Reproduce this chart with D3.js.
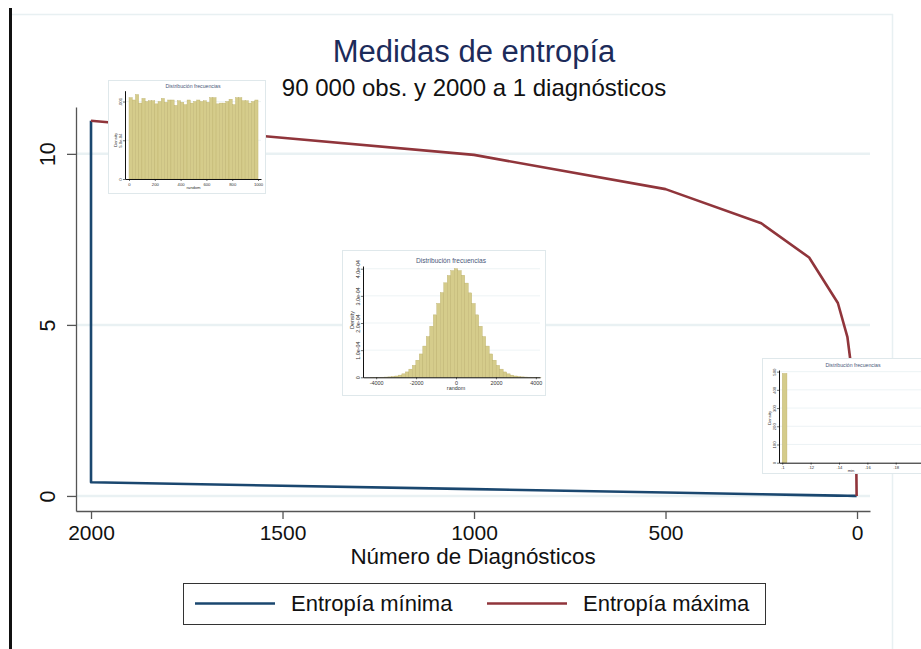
<!DOCTYPE html>
<html><head><meta charset="utf-8">
<script src="https://cdn.jsdelivr.net/npm/d3@7"></script>
<style>
html,body{margin:0;padding:0;background:#fff;}
svg{display:block;font-family:'Liberation Sans',Arial,sans-serif;}
</style></head>
<body>
<svg id="chart" width="921" height="649"></svg>
<script>
// ---------- DATA ----------
const titleText = "Medidas de entropía";
const subtitleText = "90 000 obs. y 2000 a 1 diagnósticos";
const xTitle = "Número de Diagnósticos";
const xTicks = [2000, 1500, 1000, 500, 0];
const yTicks = [0, 5, 10];
const seriesNames = ["Entropía mínima", "Entropía máxima"];
// Entropía mínima
const minX = [2000, 2000, 1000, 500, 250, 125, 50, 25, 10, 5, 2, 1];
const minY = [10.97, 0.40, 0.20, 0.10, 0.05, 0.025, 0.010, 0.005, 0.002, 0.001, 0.0002, 0];
// Entropía máxima
const maxX = [2000, 1000, 500, 250, 125, 50, 25, 10, 5, 2, 1];
const maxY = [10.97, 9.97, 8.97, 7.97, 6.97, 5.64, 4.64, 3.32, 2.32, 1.0, 0];

// Inset 1: uniform histogram (density, x 1e-3), 40 bins of width 25 over 0..1000
const unifBinStart = 0, unifBinWidth = 25;
const unifDensity = [1.05,1.02,1.09,0.98,1.04,1.00,1.01,1.01,0.97,1.00,1.04,0.99,1.02,1.02,0.95,1.01,0.99,0.96,1.02,0.98,
                     1.00,1.02,1.00,1.01,0.99,1.05,1.05,0.97,0.98,0.98,1.00,1.03,0.96,1.05,1.05,1.01,1.01,0.98,1.00,1.02];
const unifXTicks = [0, 200, 400, 600, 800, 1000];
const unifYTicks = [0, 0.0005, 0.001];
const unifYLabels = ["0", "5.0e-04", ".001"];

// Inset 2: normal histogram (density, x 1e-5), 49 bins of width 175 starting at -4287.5
const normBinStart = -4287.5, normBinWidth = 175;
const normDensity = [0.005,0.012,0.025,0.045,0.09,0.16,0.28,0.48,0.80,1.28,1.98,3.0,4.4,6.3,8.6,11.5,15.0,18.8,23.0,27.2,31.2,34.8,37.5,39.3,40.0,
                     39.3,37.6,34.7,31.1,27.2,23.0,18.8,15.0,11.5,8.6,6.3,4.4,3.0,1.97,1.27,0.79,0.48,0.28,0.16,0.087,0.047,0.024,0.012,0.006];
const normXTicks = [-4000, -2000, 0, 2000, 4000];
const normYTicks = [0, 0.0001, 0.0002, 0.0003, 0.0004];
const normYLabels = ["0", "1.0e-04", "2.0e-04", "3.0e-04", "4.0e-04"];

// Inset 3: single-bar histogram of "min"
const minBinStart = [0.1], minBinWidth = 0.0033, minDensity = [490];
const minXTicks = [0.1, 0.12, 0.14, 0.16, 0.18];
const minXLabels = [".1", ".12", ".14", ".16", ".18"];
const minYTicks = [0, 100, 200, 300, 400, 500];

const insetTitle = "Distribución frecuencias";

// ---------- DRAW ----------
const svg = d3.select("#chart");
svg.append("rect").attr("width", 921).attr("height", 649).attr("fill", "#fff");

// outer frame
svg.append("line").attr("x1", 12).attr("x2", 893).attr("y1", 14.5).attr("y2", 14.5)
  .attr("stroke", "#e8f0f2").attr("stroke-width", 1.5);
svg.append("line").attr("x1", 892.5).attr("x2", 892.5).attr("y1", 14).attr("y2", 649)
  .attr("stroke", "#e8f0f2").attr("stroke-width", 1.5);
svg.append("line").attr("x1", 10.5).attr("x2", 10.5).attr("y1", 8).attr("y2", 649)
  .attr("stroke", "#111").attr("stroke-width", 3);

const x = d3.scaleLinear().domain([2039.2, -33.9]).range([76, 870]);
const y = d3.scaleLinear().domain([-0.44, 11.37]).range([511, 107]);

// gridlines
svg.append("g").selectAll("line").data(yTicks).join("line")
  .attr("x1", 77).attr("x2", 870)
  .attr("y1", d => y(d)).attr("y2", d => y(d))
  .attr("stroke", "#e9f1f3").attr("stroke-width", 2.5);

// titles
svg.append("text").attr("x", 474).attr("y", 62).attr("text-anchor", "middle")
  .attr("font-size", 31).attr("fill", "#1c2b5a").text(titleText);
svg.append("text").attr("x", 474).attr("y", 96).attr("text-anchor", "middle")
  .attr("font-size", 24).attr("fill", "#111").text(subtitleText);

// axes
const xAxis = svg.append("g").attr("transform", "translate(0,511)")
  .call(d3.axisBottom(x).tickValues(xTicks).tickSize(8).tickSizeOuter(0).tickFormat(d3.format("d")));
xAxis.selectAll("text").attr("y", 29).attr("dy", 0).attr("font-size", 21).attr("fill", "#111")
  .attr("font-family", "'Liberation Sans',Arial,sans-serif");
const yAxis = svg.append("g").attr("transform", "translate(76,0)")
  .call(d3.axisLeft(y).tickValues(yTicks).tickSize(9).tickSizeOuter(0));
yAxis.selectAll("text").attr("transform", "rotate(-90)").attr("x", 0).attr("y", -21).attr("dy", 0)
  .attr("text-anchor", "middle").attr("font-size", 21.5).attr("fill", "#111")
  .attr("font-family", "'Liberation Sans',Arial,sans-serif");
[xAxis, yAxis].forEach(a => {
  a.select(".domain").attr("stroke", "#555").attr("stroke-width", 1.3);
  a.selectAll(".tick line").attr("stroke", "#555").attr("stroke-width", 1.3);
});

svg.append("text").attr("x", 473).attr("y", 564).attr("text-anchor", "middle")
  .attr("font-size", 22.4).attr("fill", "#111").text(xTitle);

// lines
const lineGen = d3.line().x(d => x(d[0])).y(d => y(d[1]));
const minPts = minX.map((v, i) => [v, minY[i]]);
const maxPts = maxX.map((v, i) => [v, maxY[i]]);
const colors = ["#1a476f", "#90353b"];
svg.append("path").datum(minPts).attr("d", lineGen).attr("fill", "none")
  .attr("stroke", colors[0]).attr("stroke-width", 2.6).attr("stroke-linejoin", "round");
svg.append("path").datum(maxPts).attr("d", lineGen).attr("fill", "none")
  .attr("stroke", colors[1]).attr("stroke-width", 2.6).attr("stroke-linejoin", "round");

// ---------- INSETS ----------
const barFill = "#d5cc8b", barStroke = "#bcb06a";
function inset(cfg) {
  const g = svg.append("g");
  g.append("rect").attr("x", cfg.box[0] + 0.5).attr("y", cfg.box[1] + 0.5)
    .attr("width", cfg.box[2] - cfg.box[0]).attr("height", cfg.box[3] - cfg.box[1])
    .attr("fill", "#fff").attr("stroke", "#dfe8eb").attr("stroke-width", 1);
  g.append("text").attr("x", cfg.titleX).attr("y", cfg.titleY).attr("text-anchor", "middle")
    .attr("font-size", cfg.titleSize).attr("fill", "#4a587a").text(insetTitle);
  const xs = d3.scaleLinear().domain(cfg.xDom).range(cfg.xRange);
  const ys = d3.scaleLinear().domain(cfg.yDom).range(cfg.yRange);
  // grid
  g.append("g").selectAll("line").data(cfg.yTicks.filter(d => d > 0)).join("line")
    .attr("x1", cfg.xRange[0]).attr("x2", cfg.xRange[1])
    .attr("y1", d => ys(d)).attr("y2", d => ys(d))
    .attr("stroke", "#e8f0f2").attr("stroke-width", 0.8);
  // bars
  g.append("g").selectAll("rect").data(cfg.bars).join("rect")
    .attr("x", d => xs(d.x0)).attr("width", d => xs(d.x1) - xs(d.x0))
    .attr("y", d => ys(d.v)).attr("height", d => ys(0) - ys(d.v))
    .attr("fill", barFill).attr("stroke", barStroke).attr("stroke-width", 0.4);
  // axes
  const ax = g.append("g").attr("transform", `translate(0,${cfg.yRange[0]})`)
    .call(d3.axisBottom(xs).tickValues(cfg.xTicks).tickSize(2).tickSizeOuter(0)
      .tickFormat((d, i) => cfg.xLabels[i]));
  ax.selectAll("text").attr("y", cfg.xLabY).attr("dy", 0).attr("font-size", cfg.fs).attr("fill", "#333");
  const ay = g.append("g").attr("transform", `translate(${cfg.xRange[0]},0)`)
    .call(d3.axisLeft(ys).tickValues(cfg.yTicks).tickSize(2).tickSizeOuter(0)
      .tickFormat((d, i) => cfg.yLabels[i]));
  ay.selectAll("text").attr("transform", "rotate(-90)").attr("x", 0).attr("y", -3.2).attr("dy", 0)
    .attr("text-anchor", "middle").attr("font-size", cfg.fs).attr("fill", "#333");
  [ax, ay].forEach(a => {
    a.select(".domain").attr("stroke", "#111").attr("stroke-width", 1);
    a.selectAll(".tick line").attr("stroke", "#111").attr("stroke-width", 0.6);
    a.selectAll("text").attr("font-family", "'Liberation Sans',Arial,sans-serif");
  });
  const xtX = cfg.xTitleX !== undefined ? cfg.xTitleX : d3.mean(cfg.xTicks.map(xs));
  g.append("text").attr("x", xtX)
    .attr("y", cfg.yRange[0] + cfg.xTitleDy).attr("text-anchor", "middle")
    .attr("font-size", cfg.fs).attr("fill", "#333").text(cfg.xTitle);
  g.append("text").attr("transform", `translate(${cfg.xRange[0] - cfg.yTitleDx},${cfg.yTitleY}) rotate(-90)`)
    .attr("text-anchor", "middle").attr("font-size", cfg.fs).attr("fill", "#333").text("Density");
}

inset({
  box: [108, 80, 265, 193], titleX: 193, titleY: 88, titleSize: 5.2,
  xDom: [-31, 1023], xRange: [125, 261], yDom: [0, 0.00114], yRange: [179, 90.7],
  xTicks: unifXTicks, xLabels: unifXTicks.map(String), yTicks: unifYTicks, yLabels: unifYLabels,
  bars: unifDensity.map((v, i) => ({x0: unifBinStart + i * unifBinWidth, x1: unifBinStart + (i + 1) * unifBinWidth, v: v * 1e-3})),
  fs: 4.2, xLabY: 6.5, xTitle: "random", xTitleDy: 10, yTitleDx: 8, yTitleY: 140
});

inset({
  box: [342, 250, 545, 395], titleX: 451, titleY: 263, titleSize: 6.6,
  xDom: [-4659, 4208], xRange: [363, 540], yDom: [0, 0.00041], yRange: [377.3, 266],
  xTicks: normXTicks, xLabels: normXTicks.map(String), yTicks: normYTicks, yLabels: normYLabels,
  bars: normDensity.map((v, i) => ({x0: normBinStart + i * normBinWidth, x1: normBinStart + (i + 1) * normBinWidth, v: v * 1e-5})),
  fs: 5.4, xLabY: 7.5, xTitle: "random", xTitleDy: 12.5, yTitleDx: 9.5, yTitleY: 320
});

inset({
  box: [762, 358, 940, 473], titleX: 853, titleY: 367, titleSize: 5.2,
  xDom: [0.0977, 0.2077], xRange: [779, 935], yDom: [0, 509], yRange: [462.7, 370],
  xTicks: minXTicks, xLabels: minXLabels, yTicks: minYTicks, yLabels: minYTicks.map(String),
  bars: minDensity.map((v, i) => ({x0: minBinStart[i], x1: minBinStart[i] + minBinWidth, v: v})),
  fs: 4.2, xLabY: 6.5, xTitle: "min", xTitleX: 851, xTitleDy: 9.5, yTitleDx: 8, yTitleY: 418
});

// ---------- LEGEND ----------
const leg = svg.append("g");
leg.append("rect").attr("x", 183.5).attr("y", 583.5).attr("width", 582).attr("height", 41)
  .attr("fill", "#fff").attr("stroke", "#333").attr("stroke-width", 1);
const legX = [195, 487];
seriesNames.forEach((n, i) => {
  leg.append("line").attr("x1", legX[i]).attr("x2", legX[i] + 80).attr("y1", 603.5).attr("y2", 603.5)
    .attr("stroke", colors[i]).attr("stroke-width", 2.6);
  leg.append("text").attr("x", legX[i] + 96).attr("y", 611).attr("font-size", 22)
    .attr("fill", "#111").text(n);
});
</script>
</body></html>
